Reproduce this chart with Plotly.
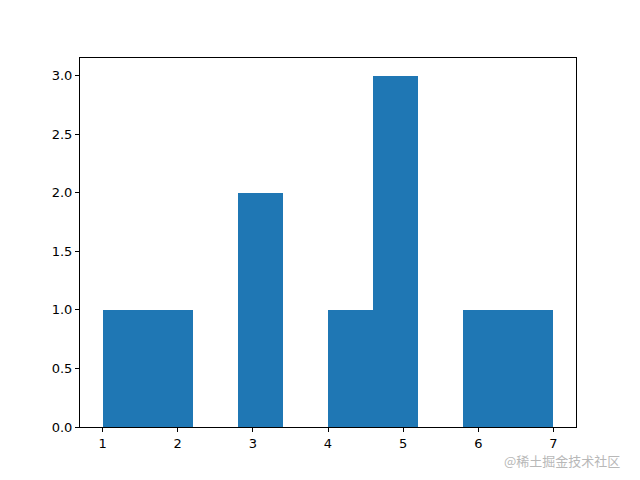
import plotly.graph_objects as go

bin_edges = [1.0, 1.6, 2.2, 2.8, 3.4, 4.0, 4.6, 5.2, 5.8, 6.4, 7.0]
counts = [1, 1, 0, 2, 0, 1, 3, 0, 1, 1]
x_ticks = [1, 2, 3, 4, 5, 6, 7]
y_ticks = [0.0, 0.5, 1.0, 1.5, 2.0, 2.5, 3.0]

centers = [(bin_edges[i] + bin_edges[i + 1]) / 2 for i in range(len(counts))]
widths = [bin_edges[i + 1] - bin_edges[i] for i in range(len(counts))]

fig = go.Figure(go.Bar(x=centers, y=counts, width=widths, marker=dict(color="#1f77b4", line=dict(width=0))))

axis_common = dict(showline=True, linecolor="black", linewidth=1, mirror=True,
                   ticks="outside", ticklen=4, tickcolor="black", showgrid=False,
                   zeroline=False, tickfont=dict(family="DejaVu Sans", size=13, color="black"))

fig.update_layout(
    width=640, height=480,
    margin=dict(l=72, r=72, t=50, b=61),
    paper_bgcolor="white", plot_bgcolor="white",
    bargap=0, showlegend=False,
    xaxis=dict(range=[0.7, 7.3], tickvals=x_ticks, **axis_common),
    yaxis=dict(range=[0, 3.15], tickvals=y_ticks, tickformat=".1f", **axis_common),
    annotations=[dict(text="@稀土掘金技术社区", xref="paper", yref="paper", x=0.853, y=-0.09,
                      xanchor="left", yanchor="middle", showarrow=False, borderpad=0,
                      font=dict(family="Noto Sans CJK SC", size=13, color="#b8b8b8"))],
)

fig.write_html("out.html")
